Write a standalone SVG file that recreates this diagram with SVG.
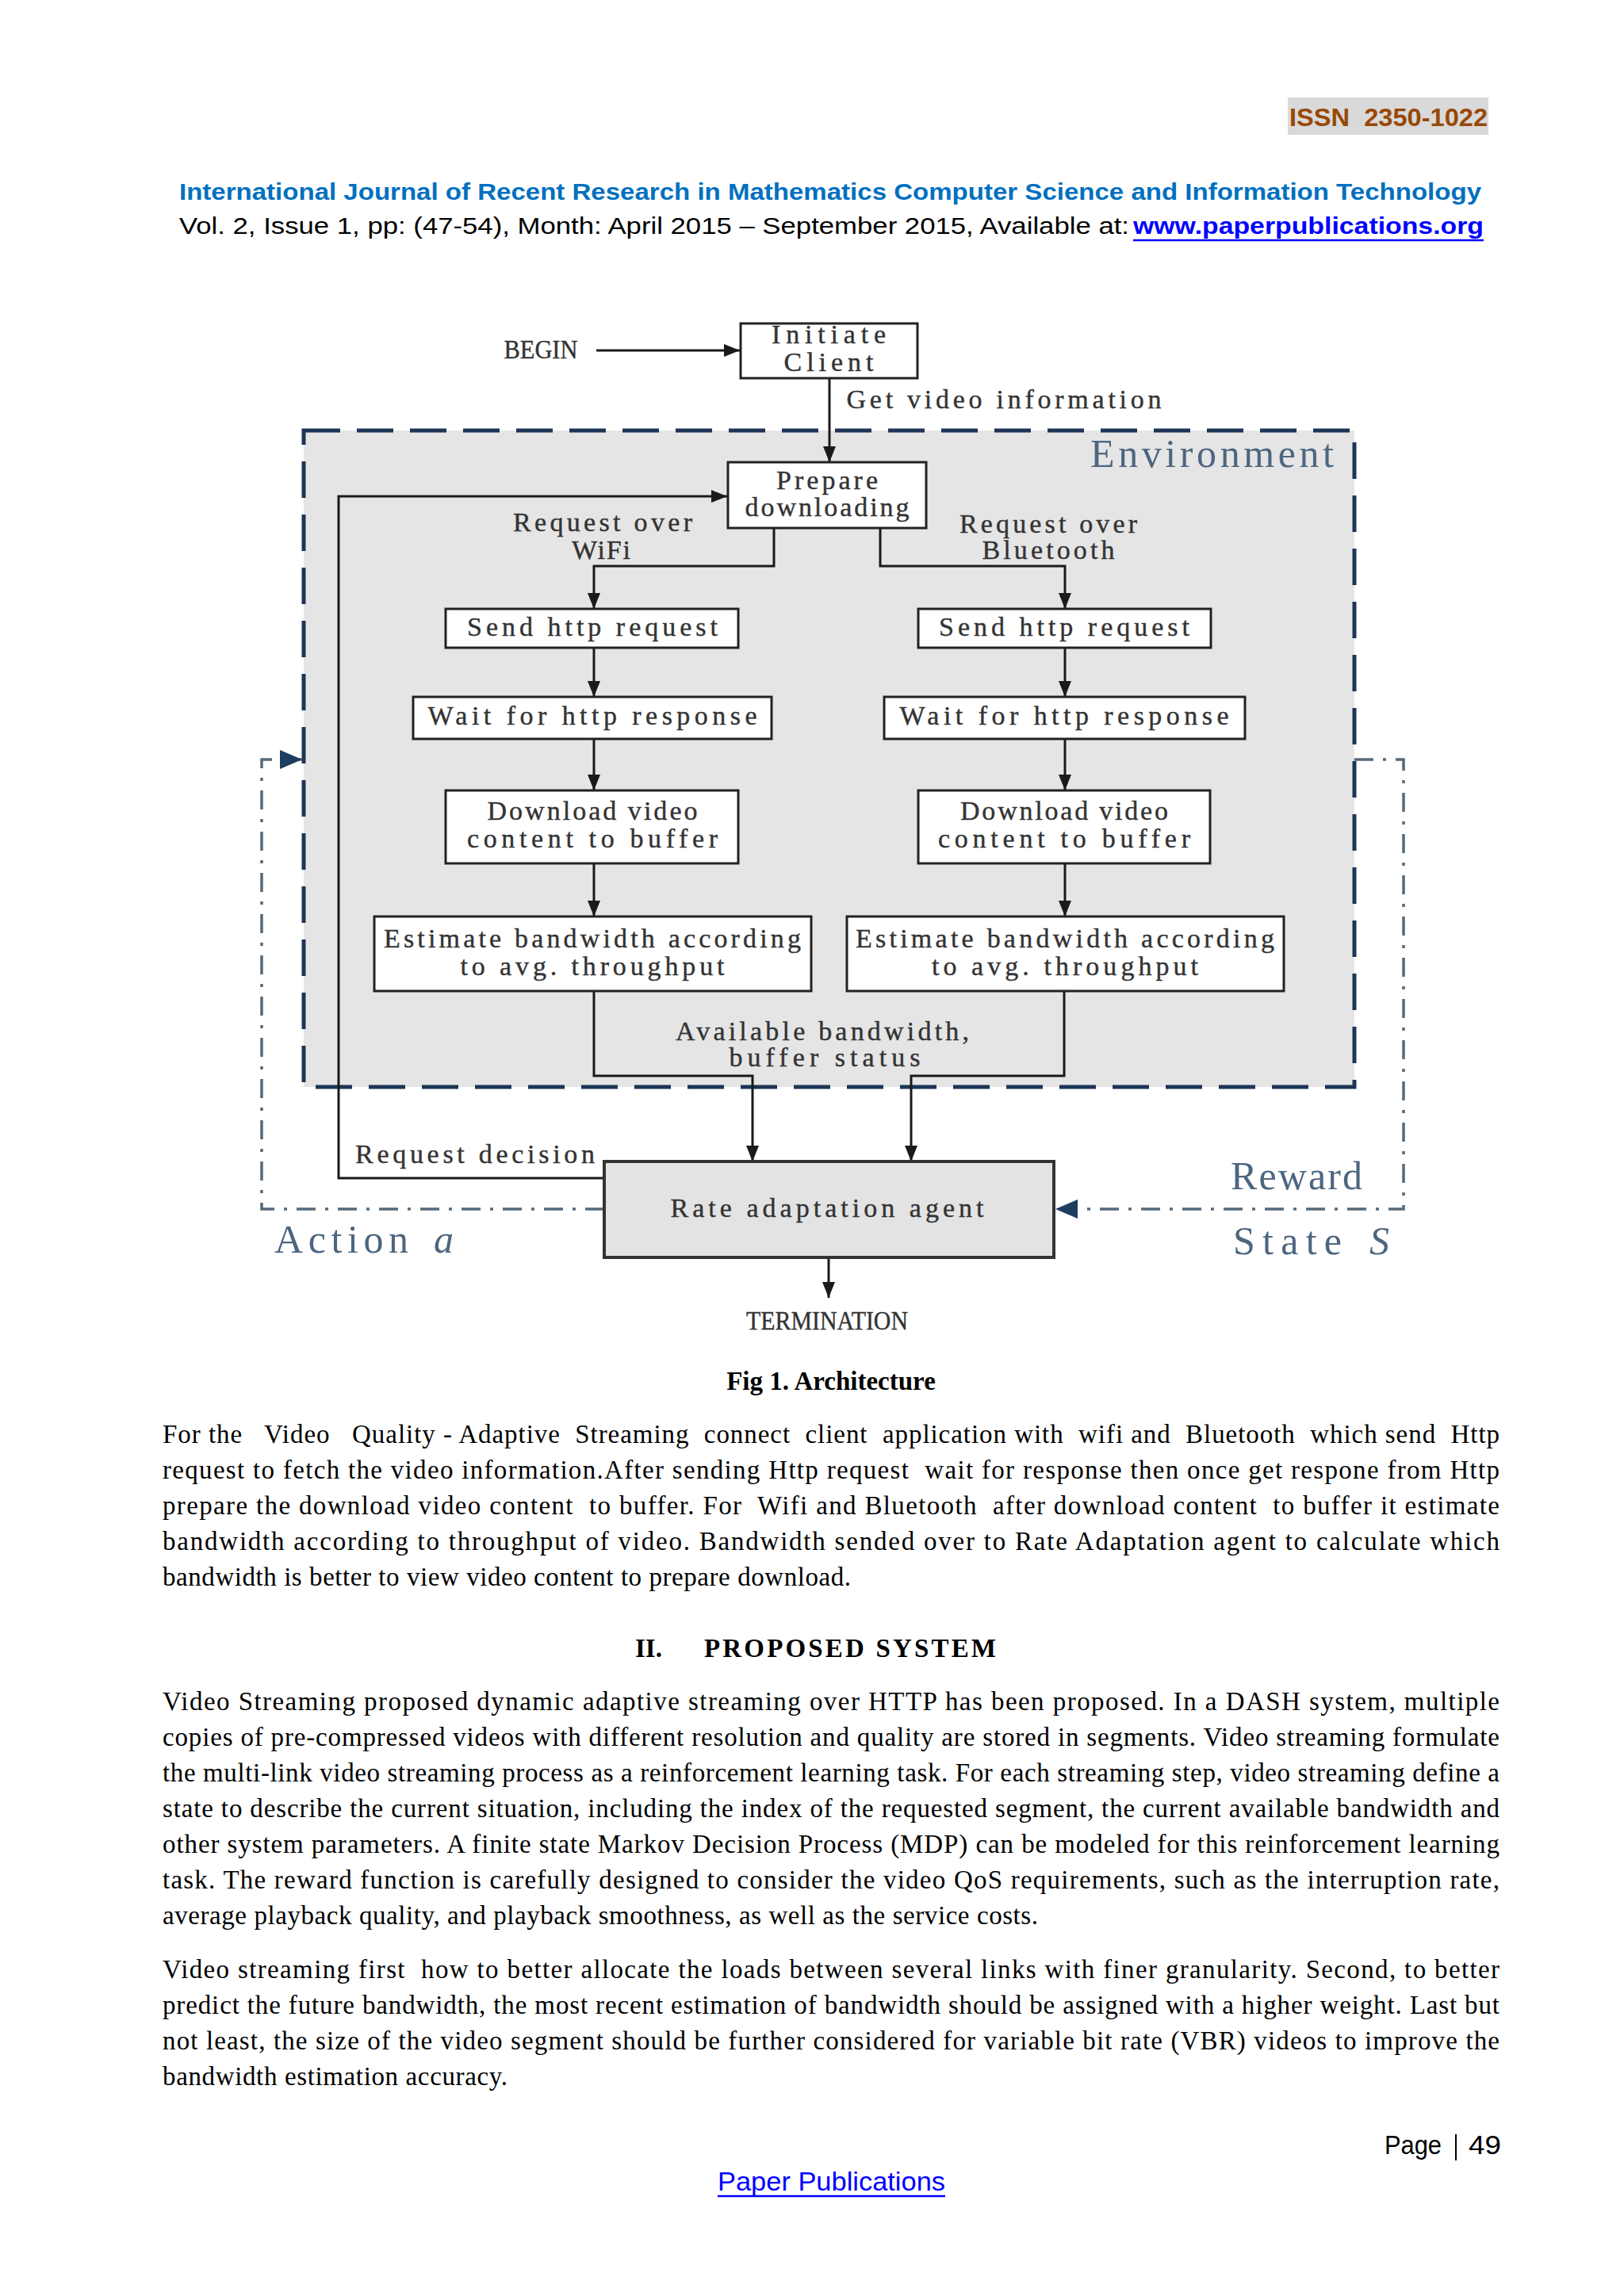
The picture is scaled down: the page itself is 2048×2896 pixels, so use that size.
<svg xmlns="http://www.w3.org/2000/svg" width="2048" height="2896" viewBox="0 0 2048 2896">
<defs>
<marker id="ah" markerUnits="userSpaceOnUse" viewBox="0 0 20 16" refX="20" refY="8" markerWidth="20" markerHeight="16" orient="auto"><path d="M0,0 L20,8 L0,16 z" fill="#1a1a1a"/></marker>
<marker id="nav" markerUnits="userSpaceOnUse" viewBox="0 0 28 24" refX="28" refY="12" markerWidth="28" markerHeight="24" orient="auto"><path d="M0,0 L28,12 L0,24 z" fill="#1f3d5e"/></marker>
</defs>
<style>
.box{fill:#ffffff;stroke:#222222;stroke-width:3}
.dt{font-family:"Liberation Serif","Times New Roman",serif;font-size:34px;fill:#333333;stroke:#333333;stroke-width:0.4;text-anchor:middle}
.big{font-family:"Liberation Serif","Times New Roman",serif;font-size:50px;fill:#4d6680}
.con{fill:none;stroke:#1a1a1a;stroke-width:3}
.dd{fill:none;stroke:#56697a;stroke-width:3.5;stroke-dasharray:24 12 4 12}
.body{font-family:"Liberation Serif","Times New Roman",serif;font-size:33px;fill:#000000}
.hdr{font-family:"Liberation Sans",Arial,sans-serif}
</style>
<rect x="0" y="0" width="2048" height="2896" fill="#ffffff"/>

<g id="header">
<rect x="1624" y="123" width="253" height="47" fill="#d9d9d9"/>
<text class="hdr" x="1626" y="159" font-size="32" font-weight="bold" fill="#984806" textLength="250" lengthAdjust="spacingAndGlyphs" xml:space="preserve">ISSN  2350-1022</text>
<text class="hdr" x="226" y="252" font-size="30" font-weight="bold" fill="#0070c0" textLength="1642" lengthAdjust="spacingAndGlyphs">International Journal of Recent Research in Mathematics Computer Science and Information Technology</text>
<text class="hdr" x="226" y="295" font-size="30" fill="#000000" textLength="1198" lengthAdjust="spacingAndGlyphs">Vol. 2, Issue 1, pp: (47-54), Month: April 2015 – September 2015, Available at:</text>
<text class="hdr" x="1429" y="295" font-size="30" font-weight="bold" fill="#0000ff" textLength="442" lengthAdjust="spacingAndGlyphs">www.paperpublications.org</text>
<line x1="1429" y1="303" x2="1871" y2="303" stroke="#0000ff" stroke-width="2.5"/>
</g>

<g id="environment">
<rect x="383" y="543" width="1325" height="828" fill="#e5e5e5" stroke="#1d3557" stroke-width="5" stroke-dasharray="46 21"/>
<text class="big" x="1375" y="589" textLength="307">Environment</text>
</g>

<g id="connectors">
<path class="con" d="M752,442 H933" marker-end="url(#ah)"/>
<path class="con" d="M1046,477 V583" marker-end="url(#ah)"/>
<path class="con" d="M762,1486 H427 V626 H917" marker-end="url(#ah)"/>
<path class="con" d="M976,666 V714 H749 V768" marker-end="url(#ah)"/>
<path class="con" d="M1110,666 V714 H1343 V768" marker-end="url(#ah)"/>
<path class="con" d="M749,817 V879" marker-end="url(#ah)"/>
<path class="con" d="M749,932 V997" marker-end="url(#ah)"/>
<path class="con" d="M749,1089 V1156" marker-end="url(#ah)"/>
<path class="con" d="M1343,817 V879" marker-end="url(#ah)"/>
<path class="con" d="M1343,932 V997" marker-end="url(#ah)"/>
<path class="con" d="M1343,1089 V1156" marker-end="url(#ah)"/>
<path class="con" d="M749,1250 V1357 H949 V1465" marker-end="url(#ah)"/>
<path class="con" d="M1342,1250 V1357 H1149 V1465" marker-end="url(#ah)"/>
<path class="con" d="M1045,1586 V1637" marker-end="url(#ah)"/>
<path class="dd" d="M762,1525 H330 V958 H381" marker-end="url(#nav)"/>
<path class="dd" d="M1708,958 H1770 V1525 H1331" marker-end="url(#nav)"/>
</g>

<g id="labels">
<text class="dt" x="682" y="452" font-size="28" textLength="93" lengthAdjust="spacingAndGlyphs">BEGIN</text>
<text class="dt" x="1266" y="515" textLength="397">Get video information</text>
<text class="dt" x="760" y="670" textLength="226">Request over</text>
<text class="dt" x="758" y="705" textLength="74">WiFi</text>
<text class="dt" x="1322" y="672" textLength="224">Request over</text>
<text class="dt" x="1322" y="705" textLength="167">Bluetooth</text>
<text class="dt" x="1037" y="1312" textLength="370">Available bandwidth,</text>
<text class="dt" x="1040" y="1345" textLength="241">buffer status</text>
<text class="dt" x="599" y="1467" textLength="302">Request decision</text>
<text class="dt" x="1043" y="1677" font-size="28" textLength="204" lengthAdjust="spacingAndGlyphs">TERMINATION</text>
<text class="big" x="1552" y="1500" textLength="166">Reward</text>
<text class="big" x="1555" y="1582" textLength="137">State</text>
<text class="big" x="1727" y="1582" font-style="italic">S</text>
<text class="big" x="346" y="1580" textLength="169">Action</text>
<text class="big" x="547" y="1580" font-style="italic">a</text>
</g>

<g id="initiate-client">
<rect class="box" x="934" y="408" width="223" height="69"/>
<text class="dt" x="1045" y="433" textLength="144">Initiate</text>
<text class="dt" x="1045" y="468" textLength="113">Client</text>
</g>
<g id="prepare-downloading">
<rect class="box" x="918" y="583" width="250" height="83"/>
<text class="dt" x="1043" y="617" textLength="128">Prepare</text>
<text class="dt" x="1043" y="651" textLength="207">downloading</text>
</g>
<g id="send-left">
<rect class="box" x="562" y="768" width="369" height="49"/>
<text class="dt" x="747" y="802" textLength="316">Send http request</text>
</g>
<g id="wait-left">
<rect class="box" x="521" y="879" width="452" height="53"/>
<text class="dt" x="747" y="914" textLength="415">Wait for http response</text>
</g>
<g id="download-left">
<rect class="box" x="562" y="997" width="369" height="92"/>
<text class="dt" x="747" y="1034" textLength="265">Download video</text>
<text class="dt" x="747" y="1069" textLength="316">content to buffer</text>
</g>
<g id="estimate-left">
<rect class="box" x="472" y="1156" width="551" height="94"/>
<text class="dt" x="747" y="1195" textLength="526">Estimate bandwidth according</text>
<text class="dt" x="747" y="1230" textLength="333">to avg. throughput</text>
</g>
<g id="send-right">
<rect class="box" x="1158" y="768" width="369" height="49"/>
<text class="dt" x="1342" y="802" textLength="316">Send http request</text>
</g>
<g id="wait-right">
<rect class="box" x="1115" y="879" width="455" height="53"/>
<text class="dt" x="1342" y="914" textLength="415">Wait for http response</text>
</g>
<g id="download-right">
<rect class="box" x="1158" y="997" width="368" height="92"/>
<text class="dt" x="1342" y="1034" textLength="262">Download video</text>
<text class="dt" x="1342" y="1069" textLength="318">content to buffer</text>
</g>
<g id="estimate-right">
<rect class="box" x="1068" y="1156" width="551" height="94"/>
<text class="dt" x="1343" y="1195" textLength="528">Estimate bandwidth according</text>
<text class="dt" x="1343" y="1230" textLength="336">to avg. throughput</text>
</g>
<g id="rate-adaptation-agent">
<rect x="762" y="1465" width="567" height="121" fill="#e3e3e3" stroke="#333333" stroke-width="4"/>
<text class="dt" x="1043" y="1535" textLength="395">Rate adaptation agent</text>
</g>

<g id="text-body">
<text class="body" x="1048" y="1753" font-size="30" font-weight="bold" text-anchor="middle">Fig 1. Architecture</text>
<text class="body" x="205" y="1820" textLength="1686" xml:space="preserve">For the   Video   Quality - Adaptive  Streaming  connect  client  application with  wifi and  Bluetooth  which send  Http</text>
<text class="body" x="205" y="1865" textLength="1686" xml:space="preserve">request to fetch the video information.After sending Http request  wait for response then once get respone from Http</text>
<text class="body" x="205" y="1910" textLength="1686" xml:space="preserve">prepare the download video content  to buffer. For  Wifi and Bluetooth  after download content  to buffer it estimate</text>
<text class="body" x="205" y="1955" textLength="1686">bandwidth according to throughput of video. Bandwidth sended over to Rate Adaptation agent to calculate which</text>
<text class="body" x="205" y="2000" textLength="868">bandwidth is better to view video content to prepare download.</text>

<text class="body" x="801" y="2090" font-size="35" font-weight="bold">II.</text>
<text class="body" x="888" y="2090" font-size="35" font-weight="bold" textLength="368">PROPOSED SYSTEM</text>

<text class="body" x="205" y="2157" textLength="1686">Video Streaming proposed dynamic adaptive streaming over HTTP has been proposed. In a DASH system, multiple</text>
<text class="body" x="205" y="2202" textLength="1686">copies of pre-compressed videos with different resolution and quality are stored in segments. Video streaming formulate</text>
<text class="body" x="205" y="2247" textLength="1686">the multi-link video streaming process as a reinforcement learning task. For each streaming step, video streaming define a</text>
<text class="body" x="205" y="2292" textLength="1686">state to describe the current situation, including the index of the requested segment, the current available bandwidth and</text>
<text class="body" x="205" y="2337" textLength="1686">other system parameters. A finite state Markov Decision Process (MDP) can be modeled for this reinforcement learning</text>
<text class="body" x="205" y="2382" textLength="1686">task. The reward function is carefully designed to consider the video QoS requirements, such as the interruption rate,</text>
<text class="body" x="205" y="2427" textLength="1104">average playback quality, and playback smoothness, as well as the service costs.</text>

<text class="body" x="205" y="2495" textLength="1686" xml:space="preserve">Video streaming first  how to better allocate the loads between several links with finer granularity. Second, to better</text>
<text class="body" x="205" y="2540" textLength="1686">predict the future bandwidth, the most recent estimation of bandwidth should be assigned with a higher weight. Last but</text>
<text class="body" x="205" y="2585" textLength="1686">not least, the size of the video segment should be further considered for variable bit rate (VBR) videos to improve the</text>
<text class="body" x="205" y="2630" textLength="435">bandwidth estimation accuracy.</text>
</g>

<g id="footer">
<text class="hdr" x="1746" y="2717" font-size="33" fill="#000000" textLength="72" lengthAdjust="spacingAndGlyphs">Page</text>
<line x1="1836" y1="2692" x2="1836" y2="2725" stroke="#000000" stroke-width="2"/>
<text class="hdr" x="1852" y="2717" font-size="33" fill="#000000" textLength="41" lengthAdjust="spacingAndGlyphs">49</text>
<text class="hdr" x="905" y="2763" font-size="33" fill="#0000ff" textLength="287" lengthAdjust="spacingAndGlyphs">Paper Publications</text>
<line x1="905" y1="2770" x2="1192" y2="2770" stroke="#0000ff" stroke-width="2.5"/>
</g>
</svg>
